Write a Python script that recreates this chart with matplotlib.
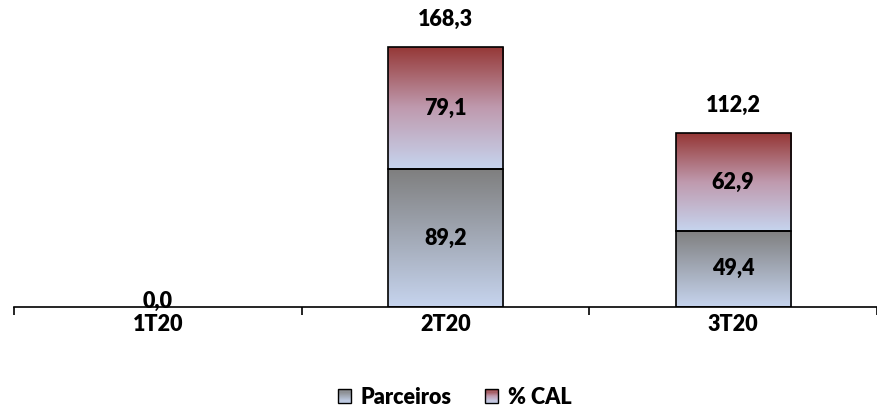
import numpy as np
import matplotlib
matplotlib.use("Agg")
from matplotlib import pyplot as plt
from matplotlib.colors import LinearSegmentedColormap
from matplotlib.patches import Rectangle
from matplotlib.legend_handler import HandlerBase

categories = ["1T20", "2T20", "3T20"]
parceiros = [0.0, 89.2, 49.4]
cal = [0.0, 79.1, 62.9]
totals = [0.0, 168.3, 112.2]
series_names = ["Parceiros", "% CAL"]

plt.rcParams["font.family"] = ["Lato", "DejaVu Sans"]
WEIGHT = "heavy"
plt.rcParams["font.weight"] = WEIGHT

light = "#c6d4ee"
grey_cmap = LinearSegmentedColormap.from_list("grey", [light, "#7f7f7f"])
red_cmap = LinearSegmentedColormap.from_list("red", [light, "#bf9aae", "#953735"])
cmaps = [grey_cmap, red_cmap]
FS = 15.5


def fmt(v):
    return ("%.1f" % v).replace(".", ",")


class GradientHandler(HandlerBase):
    def __init__(self, cmap):
        super().__init__()
        self.cmap = cmap

    def create_artists(self, legend, orig_handle, xdescent, ydescent,
                       width, height, fontsize, trans):
        side = height * 0.9
        x0 = -xdescent + (width - side) / 2
        y0 = -ydescent + (height - side) / 2
        n = 12
        arts = []
        for i in range(n):
            r = Rectangle((x0, y0 + side * i / n), side, side / n + 0.2,
                          facecolor=self.cmap((i + 0.5) / n), edgecolor="none",
                          transform=trans)
            arts.append(r)
        arts.append(Rectangle((x0, y0), side, side, facecolor="none",
                              edgecolor="black", lw=1.0, transform=trans))
        return arts


fig = plt.figure(figsize=(8.77, 4.07), dpi=100)
ax = fig.add_axes([14 / 877, 100 / 407, 863 / 877, 307 / 407])

width = 0.4
x = np.arange(len(categories))
bottoms = np.zeros(len(categories))
handles = []
for vals, cmap, name in zip([parceiros, cal], cmaps, series_names):
    lws = [1.2 if v > 0 else 0 for v in vals]
    bars = ax.bar(x, vals, width, bottom=bottoms, facecolor="none",
                  edgecolor="black", linewidth=lws, zorder=3, label=name)
    handles.append(bars)
    grad = np.linspace(0, 1, 256).reshape(-1, 1)
    for rect, v, b in zip(bars, vals, bottoms):
        if v <= 0:
            continue
        xl = rect.get_x()
        im = ax.imshow(grad, cmap=cmap, origin="lower", aspect="auto",
                       extent=[xl, xl + width, b, b + v], zorder=2)
        im.set_clip_path(rect)
        ax.text(rect.get_x() + width / 2, b + v / 2, fmt(v), ha="center",
                va="center", fontsize=FS, fontweight=WEIGHT, zorder=4)
    bottoms = bottoms + np.array(vals)

for xi, tot in zip(x, totals):
    off = 18 if tot > 0 else 3.5
    ax.text(xi, tot + off, fmt(tot), ha="center", va="center", fontsize=FS,
            fontweight=WEIGHT, zorder=4, clip_on=False)

ax.set_xlim(-0.5, 2.5)
ax.set_ylim(0, 198.7)
for s in ["top", "right", "left"]:
    ax.spines[s].set_visible(False)
ax.spines["bottom"].set_linewidth(1.2)
ax.set_yticks([])
ax.set_xticks(x)
ax.set_xticklabels(categories, fontsize=FS, fontweight=WEIGHT)
ax.tick_params(axis="x", which="major", length=0, pad=5)
ax.set_xticks([-0.5, 0.5, 1.5, 2.5], minor=True)
ax.tick_params(axis="x", which="minor", length=6, width=1.2, direction="out")

fig.legend(handles, series_names, loc="center", bbox_to_anchor=(453 / 877, 1 - 397 / 407),
           ncol=2, frameon=False, handlelength=0.9,
           handletextpad=0.3, columnspacing=1.4,
           handler_map={handles[0]: GradientHandler(grey_cmap),
                        handles[1]: GradientHandler(red_cmap)},
           prop={"weight": WEIGHT, "size": FS})

fig.savefig("out.png", dpi=100)
